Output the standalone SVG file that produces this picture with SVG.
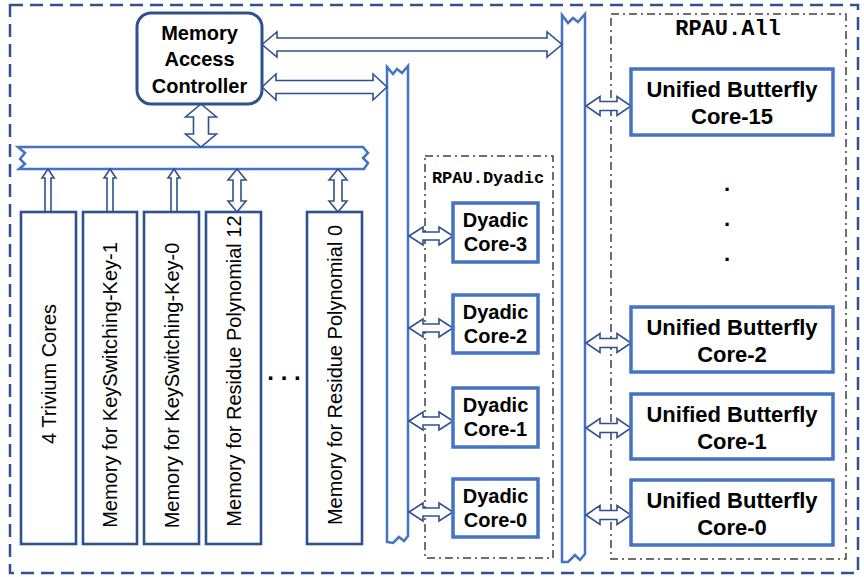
<svg xmlns="http://www.w3.org/2000/svg" width="864" height="577" viewBox="0 0 864 577">
<style>
.outer{fill:none;stroke:#2F528F;stroke-width:2.5;stroke-dasharray:13 7}
.grp{fill:none;stroke:#404040;stroke-width:1.5;stroke-dasharray:8 4 2 4}
.bus{fill:#fff;stroke:#4472C4;stroke-width:2.5;stroke-linejoin:miter}
.arr{fill:#fff;stroke:#2F528F;stroke-width:1.6;stroke-linejoin:miter}
.mac{fill:#fff;stroke:#2F528F;stroke-width:3}
.mem{fill:#fff;stroke:#2F528F;stroke-width:2.6}
.core{fill:#fff;stroke:#4472C4;stroke-width:3.5}
.t{font-family:"Liberation Sans",Arial,sans-serif;font-weight:bold;fill:#000;text-anchor:middle}
.tr{font-family:"Liberation Sans",Arial,sans-serif;font-size:20px;fill:#000;text-anchor:middle}
.mono{font-family:"Liberation Mono","Courier New",monospace;font-weight:bold;fill:#000}
</style>
<rect width="864" height="577" fill="#fff"/>
<rect class="outer" x="10" y="5" width="848" height="568"/>
<rect class="grp" x="425" y="156" width="128" height="402"/>
<rect class="grp" x="611" y="14" width="235" height="545"/>
<text class="mono" x="488" y="183" font-size="17" text-anchor="middle">RPAU.Dyadic</text>
<text class="mono" x="728" y="35" font-size="22" text-anchor="middle">RPAU.All</text>

<g id="connectors">
<path class="bus" d="M18,147 L363,147 L368,153 L363,158 L368,163 L364,169 L19,169 L25,164 L20,159 L25,153 Z"/>
<path class="bus" d="M387,542 L387,67 L393,74 L397,69 L402,73 L408,66 L408,536 L404,541 L399,537 L393,543 Z"/>
<path class="bus" d="M562,562 L562,15 L568,23 L573,18 L578,22 L585,14 L585,554 L580,560 L575,555 L568,562 Z"/>
<path class="arr" d="M262,44.5 L277,32 L277,38 L547,38 L547,32 L562,44.5 L547,57 L547,51 L277,51 L277,57 Z"/>
<path class="arr" d="M262,87 L276,74 L276,80.5 L373,80.5 L373,74 L387,87 L373,100 L373,93.5 L276,93.5 L276,100 Z"/>
<path class="arr" d="M201,104 L216.5,117 L208.5,117 L208.5,134 L216.5,134 L201,147 L185.5,134 L193.5,134 L193.5,117 L185.5,117 Z"/>
<path class="arr" d="M48,169 L54,178 L51,178 L51,212 L45,212 L45,178 L42,178 Z"/>
<path class="arr" d="M110,169 L116,178 L113,178 L113,212 L107,212 L107,178 L104,178 Z"/>
<path class="arr" d="M174,169 L180,178 L177,178 L177,212 L171,212 L171,178 L168,178 Z"/>
<path class="arr" d="M237,169 L246,180 L241,180 L241,201 L246,201 L237,212 L228,201 L233,201 L233,180 L228,180 Z"/>
<path class="arr" d="M338,169 L347,180 L342,180 L342,201 L347,201 L338,212 L329,201 L334,201 L334,180 L329,180 Z"/>
<path class="arr" d="M409,236 L423,227 L423,232 L439,232 L439,227 L453,236 L439,245 L439,240 L423,240 L423,245 Z"/>
<path class="arr" d="M409,328 L423,319 L423,324 L439,324 L439,319 L453,328 L439,337 L439,332 L423,332 L423,337 Z"/>
<path class="arr" d="M409,421 L423,412 L423,417 L439,417 L439,412 L453,421 L439,430 L439,425 L423,425 L423,430 Z"/>
<path class="arr" d="M409,512 L423,503 L423,508 L439,508 L439,503 L453,512 L439,521 L439,516 L423,516 L423,521 Z"/>
<path class="arr" d="M586,106 L600,96.5 L600,101.5 L617,101.5 L617,96.5 L631,106 L617,115.5 L617,110.5 L600,110.5 L600,115.5 Z"/>
<path class="arr" d="M586,343 L600,333.5 L600,338.5 L617,338.5 L617,333.5 L631,343 L617,352.5 L617,347.5 L600,347.5 L600,352.5 Z"/>
<path class="arr" d="M586,428 L600,418.5 L600,423.5 L617,423.5 L617,418.5 L631,428 L617,437.5 L617,432.5 L600,432.5 L600,437.5 Z"/>
<path class="arr" d="M586,515 L600,505.5 L600,510.5 L617,510.5 L617,505.5 L631,515 L617,524.5 L617,519.5 L600,519.5 L600,524.5 Z"/>
</g>

<g id="mac">
<rect class="mac" x="137" y="13" width="125" height="91" rx="14"/>
<text class="t" x="199.5" y="40" font-size="20">Memory</text>
<text class="t" x="199.5" y="66" font-size="20">Access</text>
<text class="t" x="199.5" y="93" font-size="20">Controller</text>
</g>

<g id="trivium">
<rect class="mem" x="21" y="212" width="55" height="332"/>
<text class="tr" transform="translate(56,374) rotate(-90)">4 Trivium Cores</text>
</g>
<g id="mem-ksk1">
<rect class="mem" x="83" y="212" width="54" height="332"/>
<text class="tr" transform="translate(117,385) rotate(-90)">Memory for KeySwitching-Key-1</text>
</g>
<g id="mem-ksk0">
<rect class="mem" x="144" y="212" width="55" height="332"/>
<text class="tr" transform="translate(179,385.5) rotate(-90)">Memory for KeySwitching-Key-0</text>
</g>
<g id="mem-rp12">
<rect class="mem" x="206" y="212" width="55" height="332"/>
<text class="tr" transform="translate(241,371) rotate(-90)">Memory for Residue Polynomial 12</text>
</g>
<text class="t" x="284" y="380" font-size="24">. . .</text>
<g id="mem-rp0">
<rect class="mem" x="307" y="212" width="55" height="332"/>
<text class="tr" transform="translate(342,375) rotate(-90)">Memory for Residue Polynomial 0</text>
</g>

<g id="dyadic3">
<rect class="core" x="453" y="203" width="85" height="59"/>
<text class="t" x="495.5" y="227" font-size="20">Dyadic</text>
<text class="t" x="495.5" y="251" font-size="20">Core-3</text>
</g>
<g id="dyadic2">
<rect class="core" x="453" y="295" width="85" height="58"/>
<text class="t" x="495.5" y="319" font-size="20">Dyadic</text>
<text class="t" x="495.5" y="343" font-size="20">Core-2</text>
</g>
<g id="dyadic1">
<rect class="core" x="453" y="388" width="85" height="59"/>
<text class="t" x="495.5" y="412" font-size="20">Dyadic</text>
<text class="t" x="495.5" y="436" font-size="20">Core-1</text>
</g>
<g id="dyadic0">
<rect class="core" x="453" y="479" width="85" height="58"/>
<text class="t" x="495.5" y="503" font-size="20">Dyadic</text>
<text class="t" x="495.5" y="527" font-size="20">Core-0</text>
</g>

<g id="ubf15">
<rect class="core" x="631" y="69" width="202" height="66"/>
<text class="t" x="732" y="97" font-size="22">Unified Butterfly</text>
<text class="t" x="732" y="124" font-size="22">Core-15</text>
</g>
<text class="t" x="727" y="191" font-size="22">.</text>
<text class="t" x="727" y="226" font-size="22">.</text>
<text class="t" x="727" y="261" font-size="22">.</text>
<g id="ubf2">
<rect class="core" x="631" y="307" width="202" height="65"/>
<text class="t" x="732" y="335" font-size="22">Unified Butterfly</text>
<text class="t" x="732" y="362" font-size="22">Core-2</text>
</g>
<g id="ubf1">
<rect class="core" x="631" y="394" width="202" height="65"/>
<text class="t" x="732" y="422" font-size="22">Unified Butterfly</text>
<text class="t" x="732" y="449" font-size="22">Core-1</text>
</g>
<g id="ubf0">
<rect class="core" x="631" y="480" width="202" height="65"/>
<text class="t" x="732" y="508" font-size="22">Unified Butterfly</text>
<text class="t" x="732" y="535" font-size="22">Core-0</text>
</g>
</svg>
